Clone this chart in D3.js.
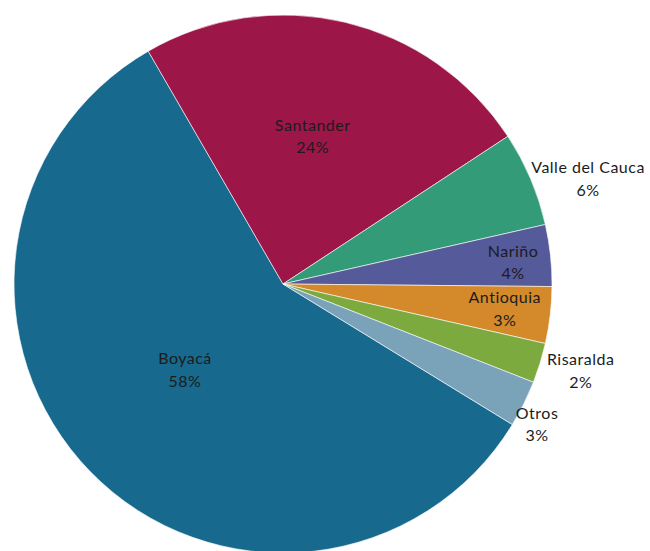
<!DOCTYPE html>
<html>
<head>
<meta charset="utf-8">
<script src="https://cdn.jsdelivr.net/npm/d3@7"></script>
<style>
  body { margin: 0; background: #fff; }
  .pie__label { font-family: Lato, 'Open Sans', sans-serif; font-size: 16px; letter-spacing: 0.5px; fill: #1c1c1c; }
</style>
</head>
<body>
<div id="chart"></div>
<script>
const WIDTH = 650
const HEIGHT = 551

// data, clockwise from the Otros/Boyacá edge
const categories = ['Boyacá', 'Santander', 'Valle del Cauca', 'Nariño', 'Antioquia', 'Risaralda', 'Otros']
const values = [57.9, 24.1, 5.7, 3.7, 3.4, 2.4, 2.8]
const percentLabels = ['58%', '24%', '6%', '4%', '3%', '2%', '3%']

const colors = ['#17698e', '#9c1648', '#339b78', '#545a9a', '#d4892b', '#7caa3f', '#7aa2b8']
// label placement: distance from centre (share of radius) and a small nudge in px
const labelRadius = [0.483, 0.56, 1.2, 0.86, 0.83, 1.15, 1.08]
const labelShift = [[-5, -5], [-5, -1], [8, 21], [0, 3], [0, -1], [2, -4], [-6, 11]]

const CX = 283
const CY = 284
const RADIUS = 269
const START = 121.5 * Math.PI / 180

const slices = categories.map((c, i) => ({ name: c, value: values[i], pct: percentLabels[i], i }))

const svg = d3.select('#chart')
  .append('svg')
  .attr('width', WIDTH)
  .attr('height', HEIGHT)

const pie = d3.pie()
  .sort(null)
  .value(d => d.value)
  .startAngle(START)
  .endAngle(START + 2 * Math.PI)

const arc = d3.arc()
  .innerRadius(0)
  .outerRadius(RADIUS)

const g = svg.append('g')
  .attr('transform', `translate(${CX}, ${CY})`)

const gArc = g.selectAll('.pie__arc')
  .data(pie(slices))
  .enter()
  .append('g')
  .attr('class', 'pie__arc')

gArc.append('path')
  .attr('d', arc)
  .attr('fill', d => colors[d.data.i])
  .attr('stroke', '#fff')
  .attr('stroke-width', 0.6)

const label = gArc.append('text')
  .attr('class', 'pie__label')
  .attr('text-anchor', 'middle')
  .attr('transform', d => {
    const r = RADIUS * labelRadius[d.data.i]
    const [x, y] = d3.arc().innerRadius(r).outerRadius(r).centroid(d)
    const [sx, sy] = labelShift[d.data.i]
    return `translate(${x + sx}, ${y + sy})`
  })

label.append('tspan')
  .attr('x', 0)
  .attr('y', -5.5)
  .text(d => d.data.name)

label.append('tspan')
  .attr('x', 0)
  .attr('y', 17)
  .text(d => d.data.pct)
</script>
</body>
</html>
